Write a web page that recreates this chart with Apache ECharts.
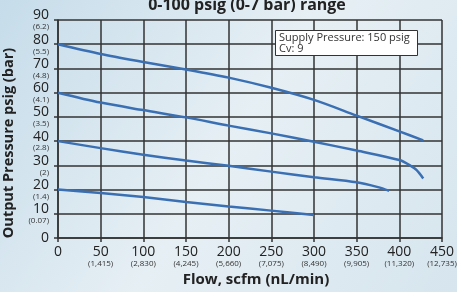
<!DOCTYPE html>
<html>
<head>
<meta charset="utf-8">
<script src="https://cdn.jsdelivr.net/npm/echarts@6/dist/echarts.min.js"></script>
<style>
  html, body { margin: 0; padding: 0; }
  #chart { width: 457px; height: 292px; }
</style>
</head>
<body>
<div id="chart"></div>
<script>
// flow (scfm) / output pressure (psig) per set pressure curve
var flow80 = [0, 50, 100, 150, 200, 250, 300, 350, 400, 428];
var psig80 = [80, 76, 72.7, 69.6, 66.2, 62, 57, 50.5, 44, 40.3];
var flow60 = [0, 50, 100, 150, 200, 250, 300, 350, 400, 412, 420, 428];
var psig60 = [60, 55.9, 52.8, 49.8, 46.4, 43.2, 39.7, 36.1, 32.2, 30.1, 28.1, 24.6];
var flow40 = [0, 50, 100, 150, 200, 250, 300, 350, 375, 388];
var psig40 = [40, 37.1, 34.4, 32, 29.8, 27.4, 25.1, 23, 21, 19.5];
var flow20 = [0, 50, 100, 150, 200, 250, 300];
var psig20 = [20, 18.6, 16.9, 14.9, 13, 11.3, 9.5];

//secondary tick labels (metric)
var barLabels = {0: "", 10: "(0.07)", 20: "(1.4)", 30: "(2)", 40: "(2.8)", 50: "(3.5)",
  60: "(4.1)", 70: "(4.8)", 80: "(5.5)", 90: "(6.2)"};
var nlLabels = {0: "", 50: "(1,415)", 100: "(2,830)", 150: "(4,245)", 200: "(5,660)",
  250: "(7,075)", 300: "(8,490)", 350: "(9,905)", 400: "(11,320)", 450: "(12,735)"};

var font = "Open Sans";
var lineColor = "#3a70b3";

function pairs(xs, ys) {
  return xs.map(function (x, i) { return [x, ys[i]]; });
}

function dualLabel(sub) {
  return function (val) {
    var s = sub[val];
    return s ? "{a|" + val + "}\n{b|" + s + "}" : "{a|" + val + "}";
  };
}

var chart = echarts.init(document.getElementById("chart"));

var curves = [[flow80, psig80], [flow60, psig60], [flow40, psig40], [flow20, psig20]];
var series = curves.map(function (c) {
  return {
    type: "line",
    data: pairs(c[0], c[1]),
    smooth: 0.3,
    symbol: "none",
    lineStyle: { color: lineColor, width: 2.5 },
  };
});

var gridLine = { color: "#333", width: 1.5 };

chart.setOption({
  backgroundColor: new echarts.graphic.LinearGradient(0, 0, 1, 1, [
    { offset: 0, color: "#c6dcea" },
    { offset: 0.5, color: "#e6eff4" },
    { offset: 1, color: "#d6e5ee" },
  ]),
  textStyle: { fontFamily: font },
  title: [
    {
      text: "0-100 psig (0-7 bar) range",
      left: 242,
      top: -8,
      textAlign: "center",
      textStyle: { fontFamily: font, fontSize: 16, fontWeight: "bold", color: "#222" },
    },
    {
      text: "Supply Pressure: 150 psig\nCv: 9",
      left: 275,
      top: 30,
      padding: [2, 8, 2, 4],
      backgroundColor: "#fff",
      borderColor: "#333",
      borderWidth: 1,
      textStyle: { fontFamily: font, fontSize: 11, lineHeight: 11, fontWeight: "normal", color: "#333" },
    },
  ],
  grid: { left: 58, right: 15, top: 20, bottom: 54, outerBoundsMode: "none", containLabel: false },
  xAxis: {
    type: "value",
    min: 0,
    max: 450,
    interval: 50,
    name: "Flow, scfm (nL/min)",
    nameLocation: "middle",
    nameGap: 33,
    nameTextStyle: { fontFamily: font, fontSize: 15, fontWeight: "bold", color: "#222", padding: [0, 0, 0, 12] },
    axisLine: { lineStyle: gridLine },
    axisTick: { show: true, length: 4, lineStyle: gridLine },
    splitLine: { lineStyle: gridLine },
    axisLabel: {
      margin: 8,
      formatter: dualLabel(nlLabels),
      rich: {
        a: { fontFamily: font, fontSize: 14, lineHeight: 13, color: "#222" },
        b: { fontFamily: font, fontSize: 8, lineHeight: 9, color: "#333" },
      },
    },
  },
  yAxis: {
    type: "value",
    min: 0,
    max: 90,
    interval: 10,
    name: "Output Pressure psig (bar)",
    nameLocation: "middle",
    nameGap: 42,
    nameTextStyle: { fontFamily: font, fontSize: 14.5, fontWeight: "bold", color: "#222", padding: [0, 28, 0, 0] },
    axisLine: { show: true, lineStyle: gridLine },
    axisTick: { show: true, length: 4, lineStyle: gridLine },
    splitLine: { lineStyle: gridLine },
    axisLabel: {
      margin: 9,
      align: "right",
      formatter: dualLabel(barLabels),
      rich: {
        a: { fontFamily: font, fontSize: 14, lineHeight: 14, color: "#222", align: "right" },
        b: { fontFamily: font, fontSize: 8, lineHeight: 9, color: "#333", align: "right" },
      },
    },
  },
  series: series,
});
</script>
</body>
</html>
